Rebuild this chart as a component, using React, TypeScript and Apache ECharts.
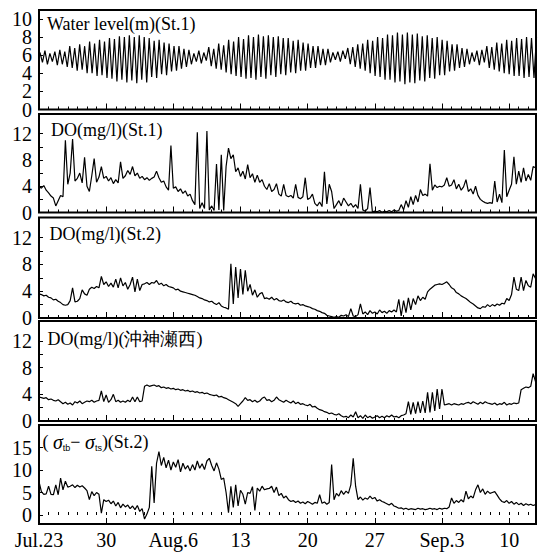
import React, { useEffect, useRef } from "react";
import * as echarts from "echarts";

// ---- x axis (days after Jul.23) ----
const dayLabels = ["Jul.23", "30", "Aug.6", "13", "20", "27", "Sep.3", "10"];
const majorDays = [0, 7, 14, 21, 28, 35, 42, 49];
const X_MAX = 51.8;
const DO_STEP = 0.25; // sampling step of the DO / sigma series (days)
const TIDE_START = 0.1; // first high water (days)
const TIDE_HALF = 0.25875; // half tidal period (days)

// ---- panel titles ----
const titleWater = "Water level(m)(St.1)";
const titleDo1 = "DO(mg/l)(St.1)";
const titleDo2 = "DO(mg/l)(St.2)";
const titleDo3 = "DO(mg/l)(沖神瀬西)";

// ---- tick labels ----
const waterTicks = [0, 2, 4, 6, 8, 10];
const waterLabelsA = [0, 4, 8];
const waterLabelsB = [2, 6, 10];
const doTicks = [2, 4, 6, 8, 10, 12];
const doLabels = [0, 4, 8, 12];
const sigmaTicks = [0, 5, 10, 15];

// ---- water level extremes (m) ----
const tideHighs = [
  6.3, 6.5, 6.2, 6.4, 6.6, 6.4,
  7.0, 6.8, 7.2, 7.0, 7.5, 7.3, 7.7, 7.5,
  7.9, 7.8, 8.1, 8.0, 8.2, 8.0, 8.2, 8.0,
  7.9, 7.6, 7.7, 7.4, 7.3, 7.0, 7.0, 6.7,
  6.6, 6.2, 6.5, 6.3, 6.9, 6.7, 7.3, 7.1,
  7.7, 7.5, 8.0, 7.8, 8.2, 8.0, 8.3, 8.1,
  8.2, 8.0, 8.1, 7.9, 7.9, 7.6, 7.7, 7.4,
  7.3, 7.0, 7.0, 6.7, 6.7, 6.3, 6.4, 6.5,
  6.8, 6.9, 7.2, 7.3, 7.7, 7.6, 8.0, 7.9,
  8.3, 8.2, 8.5, 8.3, 8.5, 8.3, 8.4, 8.1,
  8.2, 7.9, 8.0, 7.7, 7.6, 7.2, 7.2, 6.8,
  6.7, 6.3, 6.5, 6.6, 7.0, 6.9, 7.4, 7.3,
  7.7, 7.6, 7.9, 7.8, 8.0, 7.9, 8.0,
];
const tideLows = [
  5.2, 5.0, 5.3, 4.9, 5.0, 4.7,
  4.6, 4.3, 4.4, 4.0, 4.0, 3.7, 3.8, 3.5,
  3.4, 3.1, 3.3, 3.0, 3.2, 2.9, 3.3, 3.0,
  3.6, 3.5, 3.9, 3.8, 4.2, 4.3, 4.5, 4.7,
  5.0, 5.3, 5.1, 5.4, 4.8, 4.5, 4.4, 4.1,
  3.9, 3.7, 3.6, 3.4, 3.5, 3.3, 3.6, 3.4,
  3.8, 3.6, 3.9, 3.8, 4.1, 4.0, 4.3, 4.3,
  4.6, 4.6, 4.9, 4.9, 5.2, 5.5, 5.3, 5.6,
  5.0, 4.7, 4.5, 4.3, 4.0, 3.7, 3.6, 3.3,
  3.3, 3.0, 3.1, 2.8, 3.0, 2.9, 3.2, 3.1,
  3.5, 3.4, 3.8, 3.8, 4.2, 4.3, 4.6, 4.7,
  5.0, 5.3, 4.9, 5.2, 4.6, 4.4, 4.2, 4.0,
  3.9, 3.7, 3.7, 3.5, 3.6, 3.5,
];

// ---- DO St.1 (mg/l), every 6 h ----
const doSt1 = [
  4.0, 3.7, 4.1, 3.4, 3.0, 2.5, 2.2, 1.0,
  1.8, 2.6, 2.4, 11.0, 4.3, 6.0, 11.2, 4.8,
  5.2, 6.0, 4.5, 8.4, 4.0, 3.2, 5.6, 8.2,
  4.6, 5.4, 7.0, 5.2, 5.5, 4.8, 5.3, 4.4,
  5.0, 4.5, 7.7, 5.2, 5.6, 6.4, 5.8, 7.0,
  5.6, 6.0, 5.2, 5.5, 5.0, 5.3, 4.9, 5.2,
  5.4, 6.3, 5.3, 4.6, 4.8, 3.9, 3.4, 10.2,
  3.7, 3.9, 3.2, 3.6, 2.9, 3.3, 2.5, 2.8,
  1.8, 1.2, 12.2, 0.6, 1.5, 0.6, 12.4, 0.4,
  1.0, 0.3, 7.4, 0.4, 8.8, 0.3, 7.0, 9.8,
  8.2, 8.8, 6.2, 6.8, 5.5, 6.3, 5.1, 7.3,
  5.3, 5.9, 4.6, 5.7, 4.6, 5.0, 4.0, 3.5,
  4.4, 3.2, 3.5, 4.4, 2.8, 2.5, 4.3, 2.6,
  2.4, 2.6, 2.2, 4.3, 2.3, 2.1, 2.4, 5.3,
  2.0, 2.2, 2.8, 1.4, 1.0, 1.6, 0.9, 6.2,
  1.3, 4.3, 3.2, 0.6, 1.2, 1.8, 1.0, 2.2,
  1.6, 1.0, 1.4, 0.8, 1.2, 0.6, 4.3, 0.4,
  0.2, 0.6, 3.8, 0.1, 0.2, 0.1, 0.3, 0.0,
  0.2, 0.1, 0.3, 0.1, 0.4, 0.2, 0.3, 1.2,
  0.4, 1.8, 0.8, 2.4, 1.2, 2.6, 1.6, 3.5,
  2.6, 2.8, 2.5, 7.4, 3.4, 4.2, 3.8, 4.0,
  3.9, 4.2, 5.3, 4.0, 4.2, 5.0, 3.6, 4.3,
  3.4, 3.9, 5.0, 3.2, 3.6, 2.8, 4.0, 2.6,
  2.0, 1.7, 1.5, 1.4, 1.5, 1.4, 4.8, 1.6,
  2.8, 1.5, 9.5, 2.4, 3.4, 4.3, 8.5, 4.3,
  6.3, 4.6, 6.8, 4.8, 5.8, 4.9, 7.0, 6.8,
];

// ---- DO St.2 (mg/l), every 6 h ----
const doSt2 = [
  3.6, 3.5, 3.3, 3.4, 3.1, 3.0, 2.7, 2.8,
  2.5, 2.3, 2.0, 1.9, 2.0, 2.6, 4.5, 2.4,
  2.5, 2.9, 4.2, 3.6, 3.4, 4.3, 4.6, 4.4,
  4.7, 4.5, 6.2, 5.0, 5.4, 4.7, 5.2, 4.6,
  5.8, 4.5, 6.0, 4.8, 5.3, 4.3, 5.0, 6.1,
  3.9, 5.8, 4.1, 5.0, 5.1, 5.3, 5.0, 5.3,
  5.2, 5.6, 5.0, 5.2, 4.8, 5.0, 4.7, 4.6,
  4.5, 4.2, 4.3, 4.0, 3.9, 3.8, 3.7, 3.6,
  3.5, 3.4, 3.2, 3.0, 2.9, 2.7, 2.6, 2.4,
  2.5, 2.2, 2.0, 2.3, 1.8, 1.6, 1.5, 1.3,
  8.1, 2.1, 7.6, 3.0, 7.3, 3.5, 7.1, 4.0,
  5.0, 3.4, 4.2, 3.1, 3.6, 3.8, 2.9, 3.0,
  2.8, 3.1, 2.7, 2.9, 2.6, 2.5, 2.7, 2.4,
  2.3, 2.5, 2.2, 2.1, 2.2, 1.9, 2.0, 1.8,
  1.7, 1.6, 1.4, 1.3, 1.1, 1.0, 0.8, 0.7,
  0.4, 0.3, 0.2, 0.1, 0.2, 0.1, 0.4, 0.3,
  0.5, 0.2, 1.4, 0.3, 0.2, 0.5, 2.1, 0.6,
  0.9, 0.5, 1.1, 0.7, 0.9, 0.6, 1.2, 0.8,
  1.0, 0.7, 1.1, 0.9, 1.2, 0.9, 2.8, 0.3,
  2.6, 0.8, 3.0, 1.2, 2.9, 2.0, 3.3, 2.6,
  3.1, 2.8, 3.9, 4.3, 4.6, 4.9, 5.0, 5.1,
  5.0, 5.2, 5.4, 5.0, 4.5, 4.3, 3.8, 3.6,
  3.3, 3.1, 2.9, 2.6, 2.3, 2.1, 1.8, 1.5,
  1.4, 1.7, 1.6, 2.0, 1.7, 2.0, 1.8, 2.1,
  1.9, 2.2, 2.1, 2.9, 2.6, 3.5, 6.1, 4.3,
  4.1, 6.1, 4.1, 5.6, 4.8, 4.6, 6.6, 5.9,
];

// ---- DO 沖神瀬西 (mg/l), every 6 h ----
const doWest = [
  3.6, 3.5, 3.4, 3.5, 3.2, 3.3, 3.1, 3.0,
  3.2, 2.9, 2.6, 2.8, 2.5, 2.7, 2.4, 2.9,
  2.7, 3.0, 2.6, 2.8, 3.0, 2.9, 3.1, 2.8,
  3.0, 3.1, 4.5, 2.9, 3.9, 2.8, 3.2, 4.0,
  2.9, 3.1, 2.8, 3.0, 2.8, 3.1, 2.9, 3.6,
  2.9, 3.6, 2.9, 3.0, 5.2, 5.4, 5.2, 5.3,
  5.4, 5.2, 5.3, 5.0, 5.1, 4.9, 5.0, 4.8,
  4.9, 4.7, 4.8, 4.6, 4.7, 4.5, 4.6, 4.4,
  4.5, 4.3, 4.4, 4.2, 4.3, 4.1, 4.2, 4.0,
  3.9, 3.8, 3.9, 3.6, 3.7, 3.5, 3.4, 3.2,
  3.0, 2.8, 2.6, 2.2, 2.6, 3.0, 3.5, 3.1,
  3.2, 2.9, 3.1, 2.8, 3.0, 3.4, 3.6, 3.1,
  3.2, 2.9, 3.1, 3.6, 3.2, 3.0, 2.8, 3.1,
  2.9, 2.7, 3.0, 2.6, 2.8, 2.5, 2.6, 2.4,
  2.3, 2.5, 2.1, 2.2, 1.9, 1.7, 1.6, 1.4,
  1.3, 1.1, 1.2, 1.0, 0.9, 1.1, 0.8, 0.6,
  0.7, 0.5, 0.9, 0.6, 1.4, 0.5, 0.8, 0.4,
  0.9, 0.5, 0.7, 0.4, 0.6, 0.8, 0.5, 0.7,
  0.5, 0.8, 0.6, 0.9, 0.6, 0.7, 0.5, 0.8,
  0.9, 1.1, 2.9, 1.0, 2.8, 1.1, 2.9, 1.2,
  3.0, 1.2, 4.3, 1.3, 4.3, 1.5, 4.8, 1.8,
  4.8, 2.4, 2.5, 2.6, 2.4, 2.6, 2.5, 2.4,
  2.6, 2.5, 2.7, 2.8, 2.6, 2.9, 2.7, 2.5,
  2.8, 2.6, 2.9, 2.7, 2.6, 2.5, 2.7, 2.4,
  2.6, 2.5, 2.8, 2.4, 2.6, 2.5, 2.7, 2.6,
  2.7, 4.7, 4.9, 5.1, 5.0, 5.2, 7.1, 5.9,
];

// ---- sigma_tb - sigma_ts (St.2), every 6 h ----
const sigmaDiff = [
  7.4, 5.2, 4.6, 4.7, 6.4, 4.6, 4.5, 6.7,
  4.5, 8.2, 5.6, 7.5, 6.2, 6.4, 6.7, 6.1,
  6.6, 6.2, 6.5, 6.0, 5.4, 3.4, 5.2, 4.3,
  5.0, 4.6, 0.4, 3.4, 3.0, 3.3, 2.5, 3.1,
  2.0, 2.8, 1.6, 2.4, 1.8, 2.2, 1.4, 2.0,
  1.2, 2.1, 0.8, 1.4, -0.9, 0.2, 1.7, 10.8,
  2.7, 11.5, 14.1, 11.0, 12.8, 10.5, 12.2, 10.0,
  11.8, 10.6, 12.3, 9.6, 11.5, 10.2, 11.0, 9.8,
  11.2, 10.0, 12.0, 10.4, 11.4, 10.1, 12.0, 12.6,
  11.0, 9.8, 11.6, 10.2, 7.9, 8.2, 5.0, 0.5,
  6.4, 1.7, 6.7, 2.0, 5.5, 4.6, 2.4, 5.0,
  4.8, 6.3, 1.0, 6.0, 5.3, 6.4, 5.6, 5.8,
  5.9, 6.4, 5.0, 6.2, 4.3, 4.8, 3.8, 4.2,
  3.4, 3.0, 3.2, 2.8, 3.1, 2.6, 2.9, 2.5,
  3.0, 2.7, 2.4, 2.8, 2.6, 4.5, 2.6, 2.9,
  2.4, 2.8, 11.2, 3.4, 4.8, 4.2, 5.4, 4.6,
  5.3, 4.8, 6.7, 12.6, 6.4, 3.4, 4.0, 3.3,
  3.8, 3.5, 4.2, 3.6, 3.9, 3.1, 3.4, 3.0,
  2.8, 2.5, 2.2, 2.6, 2.0, 1.8, 1.5, 1.6,
  1.3, 1.5, 1.2, 1.4, 1.3, 1.2, 1.5, 1.3,
  1.4, 1.2, 1.3, 1.5, 1.3, 1.4, 1.2, 1.5,
  1.3, 1.5, 1.4, 1.8, 3.8, 2.6, 3.2, 2.8,
  3.4, 2.9, 5.3, 3.6, 4.2, 3.8, 5.6, 6.7,
  5.0, 5.8, 4.6, 5.3, 4.8, 5.0, 5.2, 4.4,
  3.6, 3.0, 2.8, 3.2, 2.6, 3.0, 2.4, 2.8,
  2.3, 2.6, 2.1, 2.5, 2.2, 2.4, 2.1, 2.3,
];

const SERIF = "Liberation Serif";

function sampled(values: number[]): number[][] {
  return values.map((v, i) => [i * DO_STEP, v]);
}
function tideSeries(): number[][] {
  const out: number[][] = [];
  for (let k = 0; k < tideHighs.length; k++) {
    const t = TIDE_START + 2 * k * TIDE_HALF;
    out.push([t, tideHighs[k]]);
    if (k < tideLows.length) out.push([t + TIDE_HALF, tideLows[k]]);
  }
  return out;
}

export default function App() {
  const ref = useRef<HTMLDivElement>(null);
  useEffect(() => {
    if (!ref.current) return;
    const chart = echarts.init(ref.current, undefined, { renderer: "svg" });

    const panels = [
      { top: 10, height: 99.5, min: 0, max: 11, ticks: waterTicks, labels: [waterLabelsA, waterLabelsB] },
      { top: 114, height: 98.5, min: 0, max: 15, ticks: doTicks, labels: [doLabels] },
      { top: 217.5, height: 100.5, min: 0, max: 15, ticks: doTicks, labels: [doLabels] },
      { top: 321, height: 100, min: 0, max: 15, ticks: doTicks, labels: [doLabels] },
      { top: 425, height: 99, min: -2, max: 20, ticks: sigmaTicks, labels: [sigmaTicks] },
    ];
    const allDays: number[] = [];
    for (let d = 1; d <= 51; d++) allDays.push(d);

    const grids = panels.map((p) => ({
      left: 39,
      right: 2,
      top: p.top,
      height: p.height,
      show: true,
      borderColor: "#000",
      borderWidth: 2,
      backgroundColor: "transparent",
    }));

    const xAxes: any[] = [];
    panels.forEach((_p, i) => {
      xAxes.push({
        gridIndex: i,
        type: "value",
        min: 0,
        max: X_MAX,
        position: "bottom",
        axisLine: { show: false },
        splitLine: { show: false },
        axisTick: {
          show: true,
          inside: true,
          length: 3,
          customValues: allDays,
          lineStyle: { color: "#000", width: 1 },
        },
        axisLabel: { show: false },
      });
      xAxes.push({
        gridIndex: i,
        type: "value",
        min: 0,
        max: X_MAX,
        position: "bottom",
        axisLine: { show: false },
        splitLine: { show: false },
        axisTick: {
          show: true,
          inside: true,
          length: 6,
          customValues: majorDays,
          lineStyle: { color: "#000", width: 1 },
        },
        axisLabel: {
          show: i === panels.length - 1,
          customValues: majorDays,
          interval: 0,
          formatter: (v: number) => dayLabels[Math.round(v / 7)] ?? "",
          fontSize: 20,
          fontFamily: SERIF,
          color: "#000",
          margin: 6,
          hideOverlap: false,
          showMinLabel: true,
          showMaxLabel: true,
        },
      });
    });

    const yAxes: any[] = [];
    const primaryY: number[] = [];
    panels.forEach((p, i) => {
      p.labels.forEach((labs, j) => {
        if (j === 0) primaryY.push(yAxes.length);
        yAxes.push({
          gridIndex: i,
          type: "value",
          position: "left",
          offset: 0,
          min: p.min,
          max: p.max,
          axisLine: { show: false },
          splitLine: { show: false },
          axisTick: {
            show: j === 0,
            inside: true,
            length: 4,
            customValues: p.ticks,
            lineStyle: { color: "#000", width: 1 },
          },
          axisLabel: {
            customValues: labs,
            interval: 0,
            fontSize: 20,
            fontFamily: SERIF,
            color: "#000",
            margin: 7,
            hideOverlap: false,
            showMinLabel: true,
            showMaxLabel: true,
          },
        });
      });
    });

    const seriesData = [tideSeries(), sampled(doSt1), sampled(doSt2), sampled(doWest), sampled(sigmaDiff)];
    const series = seriesData.map((data, i) => ({
      type: "line",
      xAxisIndex: 2 * i,
      yAxisIndex: primaryY[i],
      data,
      showSymbol: false,
      symbol: "none",
      clip: true,
      lineStyle: { color: "#000", width: 1.2 },
    }));

    const titleStyle = { fontSize: 18, fontFamily: SERIF, fill: "#000", align: "left", verticalAlign: "middle" };
    const graphic = [
      { type: "text", x: 47, y: 24, style: { ...titleStyle, text: titleWater } },
      { type: "text", x: 51, y: 130, style: { ...titleStyle, text: titleDo1 } },
      { type: "text", x: 49.5, y: 234, style: { ...titleStyle, text: titleDo2 } },
      { type: "text", x: 47.5, y: 339, style: { ...titleStyle, text: titleDo3 } },
      {
        type: "text",
        x: 42.5,
        y: 442,
        style: {
          text: "{p|( }{s|σ}{b|tb}{p|− }{s|σ}{b|ts}{p|)(St.2)}",
          fill: "#000",
          align: "left",
          verticalAlign: "middle",
          rich: {
            p: { fontSize: 18, fontFamily: SERIF, fill: "#000", verticalAlign: "middle" },
            s: { fontSize: 20, fontFamily: SERIF, fontStyle: "italic", fill: "#000", verticalAlign: "middle" },
            b: { fontSize: 9, fontFamily: "Liberation Sans", fill: "#000", verticalAlign: "bottom" },
          },
        },
      },
    ];

    chart.setOption({
      animation: false,
      backgroundColor: "#fff",
      grid: grids,
      xAxis: xAxes,
      yAxis: yAxes,
      series,
      graphic,
    });
    return () => chart.dispose();
  }, []);

  return (
    <div
      ref={ref}
      style={{ position: "fixed", left: 0, top: 0, width: 538, height: 553, background: "#fff" }}
    />
  );
}
